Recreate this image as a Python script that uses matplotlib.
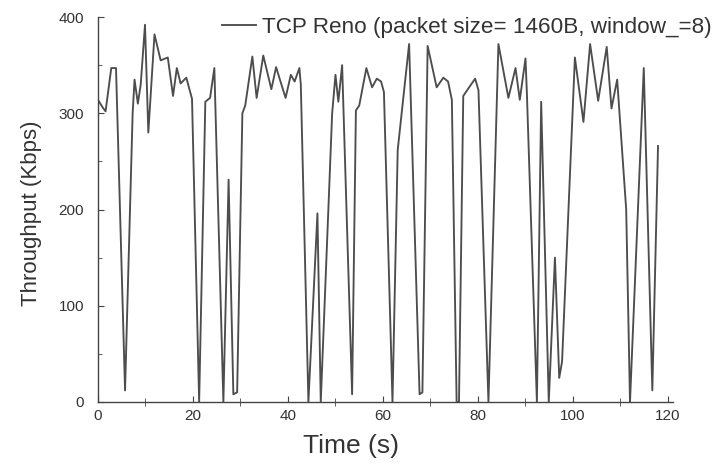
import matplotlib.pyplot as plt
from matplotlib.ticker import MultipleLocator

# Throughput trace (time in s, throughput in Kbps)
time_s = [0.0, 1.0, 1.6, 2.8, 3.8, 5.7, 7.3, 7.7, 8.4, 9.0, 9.9, 10.6, 11.9,
          13.2, 14.7, 15.8, 16.6, 17.4, 18.6, 19.8, 21.3, 22.6, 23.6, 24.5,
          26.4, 27.5, 28.5, 29.3, 30.4, 31.0, 32.5, 33.4, 34.8, 36.5, 37.5,
          38.3, 39.5, 40.6, 41.4, 42.4, 42.7, 44.3, 46.2, 46.9, 49.3, 50.0,
          50.6, 51.4, 53.5, 54.3, 55.0, 56.5, 57.7, 58.7, 59.6, 60.2, 62.0,
          63.1, 65.5, 67.7, 68.3, 69.4, 71.3, 72.7, 73.7, 74.5, 75.5, 76.0,
          76.9, 78.0, 79.4, 80.1, 82.2, 84.3, 86.4, 87.9, 88.8, 90.0, 90.3,
          92.4, 93.3, 94.9, 96.2, 97.1, 97.7, 100.4, 102.2, 103.6, 105.3,
          107.1, 108.1, 109.3, 111.2, 112.0, 114.9, 116.7, 117.9]
throughput = [314, 306, 302, 347, 347, 12, 300, 335, 310, 330, 392, 280, 382,
              355, 358, 318, 347, 331, 337, 315, 0, 312, 316, 347,
              0, 231, 8, 10, 300, 308, 359, 316, 360, 325, 348,
              335, 316, 340, 333, 347, 330, 0, 196, 0, 300, 340,
              312, 350, 8, 303, 308, 347, 327, 336, 333, 322, 0,
              262, 372, 8, 10, 370, 327, 337, 333, 314, 0, 0,
              318, 326, 336, 324, 0, 372, 316, 347, 314, 357, 320,
              0, 312, 0, 150, 25, 42, 358, 291, 372, 313,
              369, 305, 335, 200, 0, 347, 12, 266]

legend_label = "TCP Reno (packet size= 1460B, window_=8)"

plt.rcParams['font.family'] = ['Liberation Sans', 'DejaVu Sans']

fig = plt.figure(figsize=(7.23, 4.74), dpi=100)
ax = fig.add_axes([0.1355, 0.152, 0.795, 0.812])

ax.plot(time_s, throughput, color='#4d4d4d', linewidth=1.35, label=legend_label)

ax.set_xlim(0, 121)
ax.set_ylim(0, 400)
ax.xaxis.set_major_locator(MultipleLocator(20))
ax.xaxis.set_minor_locator(MultipleLocator(10))
ax.yaxis.set_major_locator(MultipleLocator(100))
ax.yaxis.set_minor_locator(MultipleLocator(50))

for side in ['top', 'right']:
    ax.spines[side].set_visible(False)
for side in ['left', 'bottom']:
    ax.spines[side].set_color('#444444')
    ax.spines[side].set_linewidth(1.0)

ax.tick_params(axis='both', which='major', direction='in', length=4,
               color='#444444', labelsize=11, labelcolor='#333333')
ax.tick_params(axis='x', which='major', pad=5)
ax.tick_params(axis='y', which='major', pad=10)
ax.tick_params(axis='x', which='minor', direction='inout', length=6, color='#444444')
ax.tick_params(axis='y', which='minor', direction='in', length=3, color='#444444')

ax.set_xlabel("Time (s)", fontsize=19, color='#333333')
ax.set_ylabel("Throughput (Kbps)", fontsize=16, color='#333333')
ax.xaxis.set_label_coords(0.44, -0.083)
ax.yaxis.set_label_coords(-0.097, 0.49)

ax.legend(loc='center left', bbox_to_anchor=(222 / 723, 1 - 27 / 474),
          bbox_transform=fig.transFigure, frameon=False, fontsize=16.2,
          handlelength=1.5, handletextpad=0.3, borderpad=0, borderaxespad=0,
          labelcolor='#333333')

fig.savefig("out.png", dpi=100)
